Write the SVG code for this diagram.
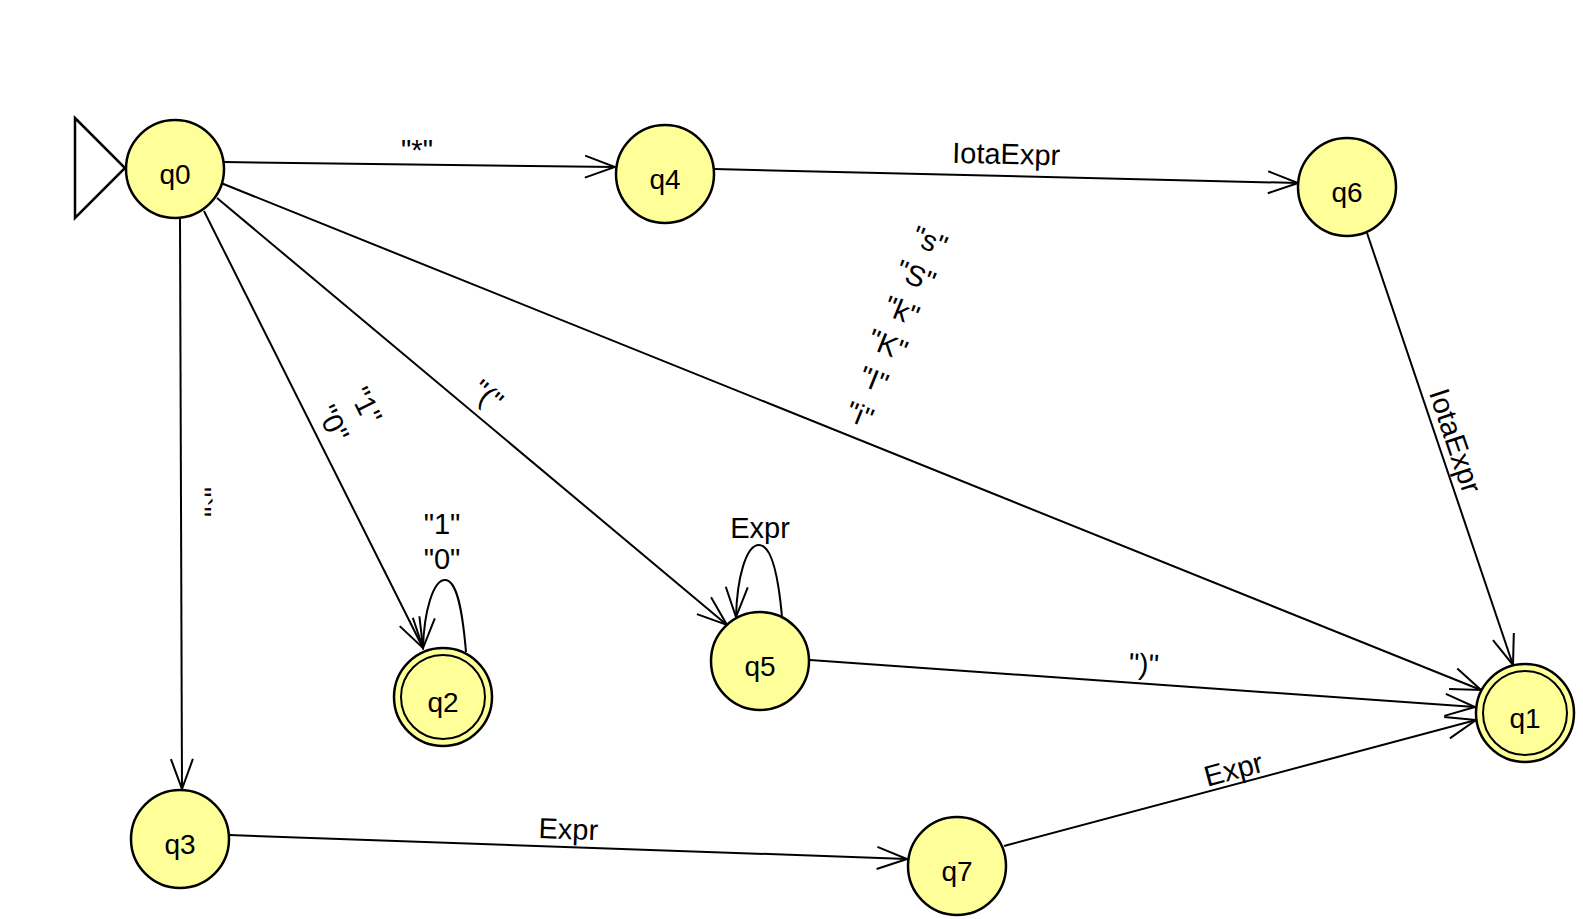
<svg xmlns="http://www.w3.org/2000/svg" width="1583" height="919" viewBox="0 0 1583 919">
<style>
.st{fill:#ffff99;stroke:#000;stroke-width:2.5}
.inner{fill:none;stroke:#000;stroke-width:2}
.nl{font-family:"Liberation Sans",Arial,sans-serif;font-size:28px;text-anchor:middle;fill:#000}
.el{font-family:"Liberation Sans",Arial,sans-serif;font-size:29px;text-anchor:middle;fill:#000}
.e{fill:none;stroke:#000;stroke-width:2;marker-end:url(#arr)}
</style>
<defs>
<marker id="arr" markerUnits="userSpaceOnUse" viewBox="-34 -14 36 28" refX="0" refY="0" markerWidth="36" markerHeight="28" orient="auto">
<path d="M-30,-11 L0,0 L-30,11" fill="none" stroke="#000" stroke-width="2"/>
</marker>
</defs>
<rect width="1583" height="919" fill="#fff"/>
<g id="connectors">
<line class="e" x1="224" y1="162" x2="615" y2="167"/>
<line class="e" x1="714" y1="169" x2="1298" y2="183"/>
<line class="e" x1="1367" y1="233" x2="1513" y2="665"/>
<line class="e" x1="221" y1="183" x2="1481" y2="690"/>
<line class="e" x1="810" y1="660" x2="1475" y2="707"/>
<line class="e" x1="1004" y1="846" x2="1476" y2="720"/>
<line class="e" x1="229" y1="835" x2="907" y2="859"/>
<line class="e" x1="180" y1="219" x2="182" y2="789"/>
<line class="e" x1="204" y1="211" x2="423" y2="648"/>
<line class="e" x1="217" y1="198" x2="727" y2="625"/>
<path class="e" d="M466,652 C462,605 456,580 445,580 C433,580 424,612 423,648"/>
<path class="e" d="M782,617 C778,572 771,545 759,545 C746,545 737,578 736,617"/>
<text class="el" x="417" y="160">"*"</text>
<text class="el" transform="translate(1006,164) rotate(1.4)">IotaExpr</text>
<text class="el" transform="translate(1446,444) rotate(71.4)">IotaExpr</text>
<text class="el" transform="translate(856,424) rotate(21.9)">"i"</text>
<text class="el" transform="translate(870,389) rotate(21.9)">"I"</text>
<text class="el" transform="translate(884,354) rotate(21.9)">"K"</text>
<text class="el" transform="translate(898,320) rotate(21.9)">"k"</text>
<text class="el" transform="translate(912,285) rotate(21.9)">"S"</text>
<text class="el" transform="translate(926,250) rotate(21.9)">"s"</text>
<text class="el" transform="translate(324,428) rotate(63.3)">"0"</text>
<text class="el" transform="translate(357,410) rotate(63.3)">"1"</text>
<text class="el" transform="translate(481,403) rotate(39.9)">"("</text>
<text class="el" transform="translate(1143,674) rotate(4)">")"</text>
<text class="el" transform="translate(568,839) rotate(2)">Expr</text>
<text class="el" transform="translate(1236,779) rotate(-15)">Expr</text>
<text class="el" transform="translate(191,502) rotate(90)">"`"</text>
<text class="el" x="442" y="534">"1"</text>
<text class="el" x="442" y="569">"0"</text>
<text class="el" x="760" y="538">Expr</text>
</g>
<g id="start">
<polygon points="75,118 125,168 75,218" fill="#fff" stroke="#000" stroke-width="2.5"/>
</g>
<g id="q0"><circle class="st" cx="175" cy="169" r="49"/><text class="nl" x="175" y="184">q0</text></g>
<g id="q4"><circle class="st" cx="665" cy="174" r="49"/><text class="nl" x="665" y="189">q4</text></g>
<g id="q6"><circle class="st" cx="1347" cy="187" r="49"/><text class="nl" x="1347" y="202">q6</text></g>
<g id="q5"><circle class="st" cx="760" cy="661" r="49"/><text class="nl" x="760" y="676">q5</text></g>
<g id="q2"><circle class="st" cx="443" cy="697" r="49"/><circle class="inner" cx="443" cy="697" r="42"/><text class="nl" x="443" y="712">q2</text></g>
<g id="q1"><circle class="st" cx="1525" cy="713" r="49"/><circle class="inner" cx="1525" cy="713" r="42"/><text class="nl" x="1525" y="728">q1</text></g>
<g id="q3"><circle class="st" cx="180" cy="839" r="49"/><text class="nl" x="180" y="854">q3</text></g>
<g id="q7"><circle class="st" cx="957" cy="866" r="49"/><text class="nl" x="957" y="881">q7</text></g>
</svg>
